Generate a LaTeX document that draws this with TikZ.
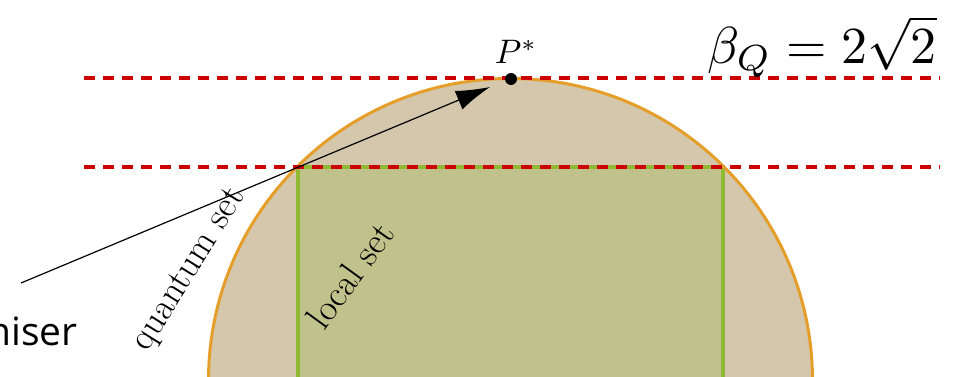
\documentclass[tikz,border=0pt]{standalone}
\usepackage{fontspec}
\newfontfamily\labelsans{Open Sans}
\usetikzlibrary{arrows.meta}
\definecolor{qfill}{RGB}{212,199,172}
\definecolor{qline}{RGB}{230,158,42}
\definecolor{lfill}{RGB}{192,194,140}
\definecolor{lline}{RGB}{142,186,52}
\definecolor{bred}{RGB}{204,0,0}
\tikzset{
  bellline/.style={draw=bred, line width=4pt, dash pattern=on 11pt off 8pt},
  setlabel/.style={font=\fontsize{37}{40}\selectfont, inner sep=0pt},
  pointer/.style={draw=black, line width=1.2pt, -{Latex[length=34pt,width=20pt]}},
}
\begin{document}
\begin{tikzpicture}[x=1pt,y=-1pt]
\useasboundingbox (0,0) rectangle (953,377);
\clip (0,0) rectangle (953,377);
% quantum set
\fill[qfill] (510.5,380.5) circle (302);
% local set
\coordinate (LT) at (298,167);
\coordinate (RT) at (723,167);
\coordinate (LB) at (298,400);
\coordinate (RB) at (723,400);
\fill[lfill] (LT) rectangle (RB);
\draw[lline, line width=4pt] (LB) -- (LT) -- (RT) -- (RB);
\draw[qline, line width=3pt] (510.5,380.5) circle (302);
% Bell bounds
\coordinate (A1) at (84,78);
\coordinate (A2) at (940,78);
\coordinate (B1) at (84,167);
\coordinate (B2) at (940,167);
\draw[bellline] (A1) -- (A2);
\draw[bellline] (B1) -- (B2);
% optimal point
\node[circle, fill=black, inner sep=0pt, minimum size=12pt] (P) at (511,79) {};
\node[scale=3.4, inner sep=0pt] (Plab) at (516,52) {$P^*$};
\node[scale=5.2, inner sep=0pt] (beta) at (822,47) {$\beta_Q = 2\sqrt{2}$};
% labels
\node[setlabel, rotate=58] (qlab) at (190,270) {quantum set};
\node[setlabel, rotate=54] (llab) at (350,275) {local set};
% arrow
\coordinate (S) at (21,283);
\coordinate (T) at (490,87);
\draw[pointer] (S) -- (T);
\node[font=\labelsans\fontsize{39}{41}\selectfont, anchor=base west, inner sep=0pt] (mx) at (-13,345) {niser};
\end{tikzpicture}
\end{document}
